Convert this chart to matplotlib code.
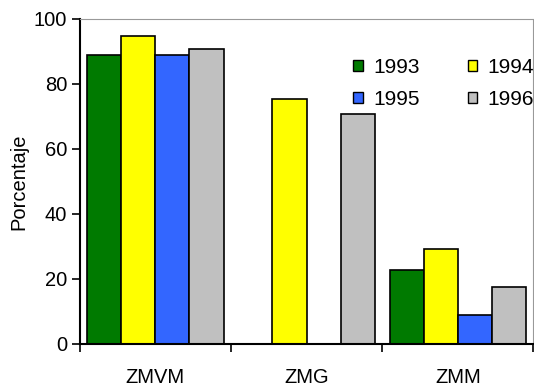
import numpy as np
import matplotlib.pyplot as plt
from matplotlib.patches import Patch

plt.rcParams['font.family'] = ['Liberation Sans', 'DejaVu Sans']

# data
categories = ['ZMVM', 'ZMG', 'ZMM']
years = ['1993', '1994', '1995', '1996']
v1993 = [89.0, np.nan, 22.6]
v1994 = [94.6, 75.4, 29.2]
v1995 = [89.0, np.nan, 8.9]
v1996 = [90.8, 70.7, 17.6]
colors = ['#007a00', '#ffff00', '#3366ff', '#c0c0c0']

series = [v1993, v1994, v1995, v1996]

fig = plt.figure(figsize=(5.34, 3.86), dpi=100)
ax = fig.add_axes([0.149, 0.109, 0.850, 0.842])

x = np.arange(len(categories))
w = 0.2257
for i, vals in enumerate(series):
    offs = (i - 1.5) * w
    ax.bar(x + offs, vals, width=w, color=colors[i], edgecolor='black', linewidth=1.2)

ax.set_xlim(-0.5, 2.5)
ax.set_ylim(0, 100)
ax.set_yticks([0, 20, 40, 60, 80, 100])
ax.set_xticks(x)
ax.set_xticklabels(categories)
ax.tick_params(axis='x', length=0, pad=17, labelsize=14.5)
ax.set_xticks([-0.5, 0.5, 1.5, 2.5], minor=True)
ax.tick_params(axis='x', which='minor', length=6, width=1.2, direction='out')
ax.tick_params(axis='y', length=6, width=1.2, direction='out', labelsize=14.5, pad=3)
ax.set_ylabel('Porcentaje', fontsize=14.5, labelpad=4)

ax.spines['left'].set_linewidth(1.5)
ax.spines['bottom'].set_linewidth(1.5)
ax.spines['top'].set_color('#999999')
ax.spines['top'].set_linestyle((0, (2, 1)))
ax.spines['right'].set_color('#999999')

# matplotlib fills legend columns first, so reorder to get rows 1993/1994, 1995/1996
order = [0, 2, 1, 3]
handles = [Patch(facecolor=colors[i], edgecolor='black', linewidth=1.0) for i in order]
labels = [years[i] for i in order]
leg = ax.legend(handles, labels, ncol=2, frameon=False, fontsize=15,
                loc='upper left', bbox_to_anchor=(0.585, 0.905),
                handlelength=0.45, handleheight=0.45, handletextpad=0.5,
                columnspacing=2.3, labelspacing=0.6, borderaxespad=0)

fig.savefig('out.png', dpi=100)
